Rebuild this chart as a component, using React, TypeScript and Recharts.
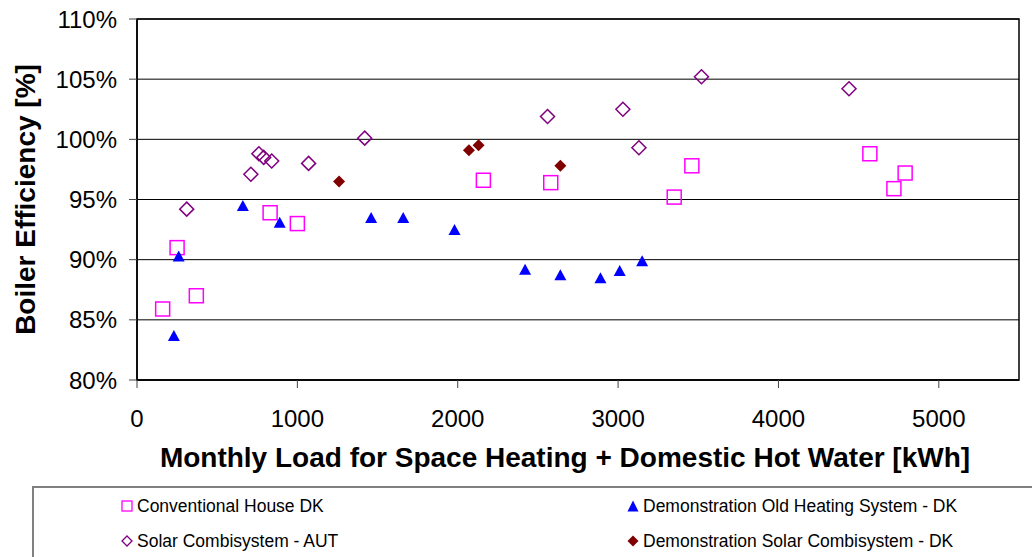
import React from "react";
import {
  ScatterChart,
  Scatter,
  XAxis,
  YAxis,
  CartesianGrid,
  ReferenceArea,
  Label,
} from "recharts";

const FONT = "'Liberation Sans', Arial, sans-serif";

// monthly load [kWh] / boiler efficiency [%] for each installation
const conventionalLoad = [160, 250, 370, 830, 1000, 2160, 2580, 3350, 3460, 4570, 4720, 4790];
const conventionalEff = [85.9, 91.0, 87.0, 93.9, 93.0, 96.6, 96.4, 95.2, 97.8, 98.8, 95.9, 97.2];

const oldHeatingLoad = [230, 260, 660, 890, 1460, 1660, 1980, 2420, 2640, 2890, 3010, 3150];
const oldHeatingEff = [83.7, 90.3, 94.5, 93.1, 93.5, 93.5, 92.5, 89.2, 88.75, 88.5, 89.1, 89.9];

const solarAutLoad = [310, 710, 760, 790, 840, 1070, 1420, 2560, 3030, 3130, 3520, 4440];
const solarAutEff = [94.2, 97.1, 98.8, 98.5, 98.2, 98.0, 100.1, 101.9, 102.5, 99.3, 105.2, 104.2];

const demoSolarLoad = [1260, 2070, 2130, 2640];
const demoSolarEff = [96.5, 99.1, 99.5, 97.8];

const xTicks = [0, 1000, 2000, 3000, 4000, 5000];
const yTicks = [80, 85, 90, 95, 100, 105, 110];

const zip = (xs: number[], ys: number[]) => xs.map((x, i) => ({ load: x, eff: ys[i] }));

const OpenSquare = ({ cx, cy }: any) => (
  <rect x={cx - 7} y={cy - 7} width={14} height={14} fill="none" stroke="#FF00FF" strokeWidth={1.5} />
);

const Triangle = ({ cx, cy }: any) => (
  <path d={`M${cx},${cy - 5.5}L${cx + 6},${cy + 5.5}L${cx - 6},${cy + 5.5}Z`} fill="#0000FF" />
);

const OpenDiamond = ({ cx, cy }: any) => (
  <path
    d={`M${cx},${cy - 7}L${cx + 7},${cy}L${cx},${cy + 7}L${cx - 7},${cy}Z`}
    fill="none"
    stroke="#800080"
    strokeWidth={1.5}
  />
);

const Diamond = ({ cx, cy }: any) => (
  <path d={`M${cx},${cy - 6}L${cx + 6},${cy}L${cx},${cy + 6}L${cx - 6},${cy}Z`} fill="#800000" />
);

const legendItems = [
  {
    name: "Conventional House DK",
    left: 87,
    top: 8,
    icon: <rect x={1} y={1} width={10} height={10} fill="none" stroke="#FF00FF" strokeWidth={1.3} />,
  },
  {
    name: "Demonstration Old Heating System - DK",
    left: 593,
    top: 8,
    icon: <path d="M6,0.5L11.5,11.5L0.5,11.5Z" fill="#0000FF" />,
  },
  {
    name: "Solar Combisystem - AUT",
    left: 87,
    top: 43,
    icon: <path d="M6,1L11,6L6,11L1,6Z" fill="none" stroke="#800080" strokeWidth={1.3} />,
  },
  {
    name: "Demonstration Solar Combisystem - DK",
    left: 593,
    top: 43,
    icon: <path d="M6,0.5L11.5,6L6,11.5L0.5,6Z" fill="#800000" />,
  },
];

const App = () => {
  return (
    <div
      style={{
        position: "absolute",
        left: 0,
        top: 0,
        width: 1032,
        height: 557,
        overflow: "hidden",
        background: "#fff",
        fontFamily: FONT,
      }}
    >
      <ScatterChart
        width={1032}
        height={557}
        margin={{ top: 19, right: 13, left: 0, bottom: 127 }}
        style={{ fontFamily: FONT }}
      >
        <CartesianGrid vertical={false} stroke="#000" strokeWidth={1} />
        <XAxis
          dataKey="load"
          type="number"
          domain={[0, 5500]}
          ticks={xTicks}
          height={50}
          tickSize={8}
          tickMargin={22}
          axisLine={{ stroke: "#000", strokeWidth: 1.5 }}
          tickLine={{ stroke: "#444" }}
          tick={{ fill: "#000", fontSize: 24 }}
        >
          <Label
            value="Monthly Load for Space Heating + Domestic Hot Water [kWh]"
            position="bottom"
            offset={17}
            dx={-13}
            style={{ fontSize: 28, fontWeight: "bold", fill: "#000" }}
          />
        </XAxis>
        <YAxis
          dataKey="eff"
          type="number"
          domain={[80, 110]}
          ticks={yTicks}
          width={137}
          tickSize={8}
          tickMargin={12}
          tickFormatter={(v: number) => `${v}%`}
          axisLine={{ stroke: "#000", strokeWidth: 1.5 }}
          tickLine={{ stroke: "#444" }}
          tick={{ fill: "#000", fontSize: 24 }}
        >
          <Label
            value="Boiler Efficiency [%]"
            angle={-90}
            position="insideLeft"
            offset={25}
            style={{ fontSize: 28, fontWeight: "bold", fill: "#000", textAnchor: "middle" }}
          />
        </YAxis>
        <ReferenceArea x1={0} x2={5500} y1={80} y2={110} fill="none" stroke="#000" strokeWidth={1.5} />
        <Scatter name="Conventional House DK" data={zip(conventionalLoad, conventionalEff)} shape={OpenSquare} isAnimationActive={false} />
        <Scatter name="Demonstration Old Heating System - DK" data={zip(oldHeatingLoad, oldHeatingEff)} shape={Triangle} isAnimationActive={false} />
        <Scatter name="Solar Combisystem - AUT" data={zip(solarAutLoad, solarAutEff)} shape={OpenDiamond} isAnimationActive={false} />
        <Scatter name="Demonstration Solar Combisystem - DK" data={zip(demoSolarLoad, demoSolarEff)} shape={Diamond} isAnimationActive={false} />
      </ScatterChart>

      <div
        style={{
          position: "absolute",
          left: 32,
          top: 486,
          width: 1030,
          height: 100,
          border: "2px solid #808080",
          boxSizing: "border-box",
        }}
      >
        {legendItems.map((item) => (
          <div
            key={item.name}
            style={{
              position: "absolute",
              left: item.left,
              top: item.top,
              height: 20,
              display: "flex",
              alignItems: "center",
              whiteSpace: "nowrap",
            }}
          >
            <svg width={12} height={12} style={{ display: "block" }}>
              {item.icon}
            </svg>
            <span style={{ marginLeft: 4, fontSize: 17.5, lineHeight: "20px", color: "#000" }}>{item.name}</span>
          </div>
        ))}
      </div>
    </div>
  );
};

export default App;
